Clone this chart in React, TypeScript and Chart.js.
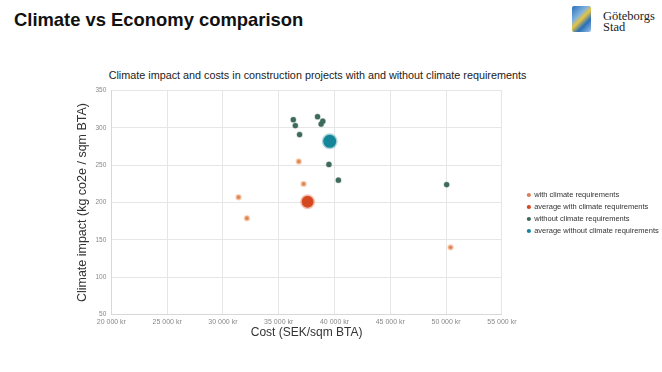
import React, { useEffect, useRef } from "react";
import { Chart, registerables } from "chart.js";

Chart.register(...registerables);

const withCost = [31400, 32150, 36800, 37230, 50400];
const withImpact = [207, 179, 255, 225, 140];
const avgWithCost = [37590];
const avgWithImpact = [201];
const withoutCost = [36310, 36490, 36870, 38480, 38950, 38800, 39500, 40350, 50050];
const withoutImpact = [311, 303, 291, 315, 309, 305, 251, 230, 224];
const avgWithoutCost = [39570];
const avgWithoutImpact = [282];

const seriesNames = [
  "with climate requirements",
  "average with climate requirements",
  "without climate requirements",
  "average without climate requirements",
];

const toPoints = (xs: number[], ys: number[]) => xs.map((x, i) => ({ x, y: ys[i] }));
const fmt = (v: number) => String(v).replace(/\B(?=(\d{3})+(?!\d))/g, " ") + " kr";

const legendShift = {
  id: "legendShift",
  afterLayout(chart: any) {
    const lg = chart.legend;
    if (lg) {
      lg.left += 21;
      lg.right += 21;
      lg.top += 1;
      lg.bottom += 1;
    }
  },
};

export default function App() {
  const ref = useRef<HTMLCanvasElement | null>(null);
  useEffect(() => {
    document.body.style.margin = "0";
    const ctx = ref.current!;
    const chart = new Chart(ctx, {
      type: "scatter",
      plugins: [legendShift],
      data: {
        datasets: [
          { label: seriesNames[0], data: toPoints(withCost, withImpact), backgroundColor: "#D8805A", borderColor: "rgba(248,178,130,0.55)", borderWidth: 2, pointRadius: 2.2 },
          { label: seriesNames[1], data: toPoints(avgWithCost, avgWithImpact), backgroundColor: "#D4471F", borderColor: "rgba(222,90,50,0.35)", borderWidth: 3, pointRadius: 6 },
          { label: seriesNames[2], data: toPoints(withoutCost, withoutImpact), backgroundColor: "#3F6B5E", borderColor: "rgba(63,107,94,0.3)", borderWidth: 1.2, pointRadius: 2.6 },
          { label: seriesNames[3], data: toPoints(avgWithoutCost, avgWithoutImpact), backgroundColor: "#15869A", borderColor: "rgba(21,134,154,0.35)", borderWidth: 3, pointRadius: 6.5 },
        ],
      },
      options: {
        animation: false,
        responsive: false,
        layout: { padding: { left: 75.5, right: 18, top: 4, bottom: 3 } },
        plugins: {
          legend: {
            position: "right",
            labels: {
              usePointStyle: true,
              pointStyle: "circle",
              boxWidth: 3,
              boxHeight: 3,
              padding: 4.5,
              color: "#333",
              font: { family: "Liberation Sans, Arial", size: 7.5 },
              generateLabels: (c: any) => {
                const items = Chart.defaults.plugins.legend.labels.generateLabels(c);
                items.forEach((it: any) => { it.lineWidth = 0; it.strokeStyle = "transparent"; });
                return items;
              },
            },
          },
          tooltip: { enabled: false },
        },
        scales: {
          x: {
            type: "linear",
            min: 20000,
            max: 55000,
            ticks: { stepSize: 5000, padding: 3, callback: (v: any) => fmt(Number(v)), color: "#888", font: { family: "Liberation Sans, Arial", size: 7 }, maxRotation: 0 },
            grid: { color: "#E6E6E6", drawTicks: false },
            border: { color: "#D8D8D8" },
            title: { display: true, text: "Cost (SEK/sqm BTA)", color: "#333", font: { family: "Liberation Sans, Arial", size: 12, lineHeight: 1 }, padding: { top: -2, bottom: 0 } },
          },
          y: {
            min: 50,
            max: 350,
            ticks: { stepSize: 50, padding: 5, color: "#888", font: { family: "Liberation Sans, Arial", size: 6.5 } },
            grid: { color: "#E6E6E6", drawTicks: false },
            border: { color: "#D8D8D8" },
            title: { display: true, text: "Climate impact (kg co2e / sqm BTA)", color: "#333", font: { family: "Liberation Sans, Arial", size: 12.5 }, padding: { top: 0, bottom: 0 } },
          },
        },
      },
    });
    return () => chart.destroy();
  }, []);

  return (
    <div style={{ position: "absolute", left: 0, top: 0, width: 662, height: 372, background: "#fff", overflow: "hidden" }}>
      <div style={{ position: "absolute", left: 14, top: 10, fontFamily: "Liberation Sans, Arial", fontWeight: "bold", fontSize: 18.4, lineHeight: "20px", color: "#111" }}>
        Climate vs Economy comparison
      </div>
      <div style={{ position: "absolute", left: 572, top: 6, width: 19, height: 26, background: "linear-gradient(135deg,#2a6fb8 0%,#7fb2e0 35%,#e8c440 50%,#2a6fb8 70%,#9cc4ea 100%)", borderRadius: 2 }} />
      <div style={{ position: "absolute", left: 603, top: 11, fontFamily: "Liberation Serif, DejaVu Serif, serif", fontSize: 12.5, lineHeight: "11px", color: "#222" }}>
        Göteborgs<br />Stad
      </div>
      <div style={{ position: "absolute", left: 106, top: 68, width: 423, textAlign: "center", fontFamily: "Liberation Sans, Arial", fontSize: 10.8, lineHeight: "14px", color: "#222", whiteSpace: "nowrap" }}>
        Climate impact and costs in construction projects with and without climate requirements
      </div>
      <canvas ref={ref} width={662} height={261} style={{ position: "absolute", left: 0, top: 81, width: 662, height: 261 }} />
    </div>
  );
}
